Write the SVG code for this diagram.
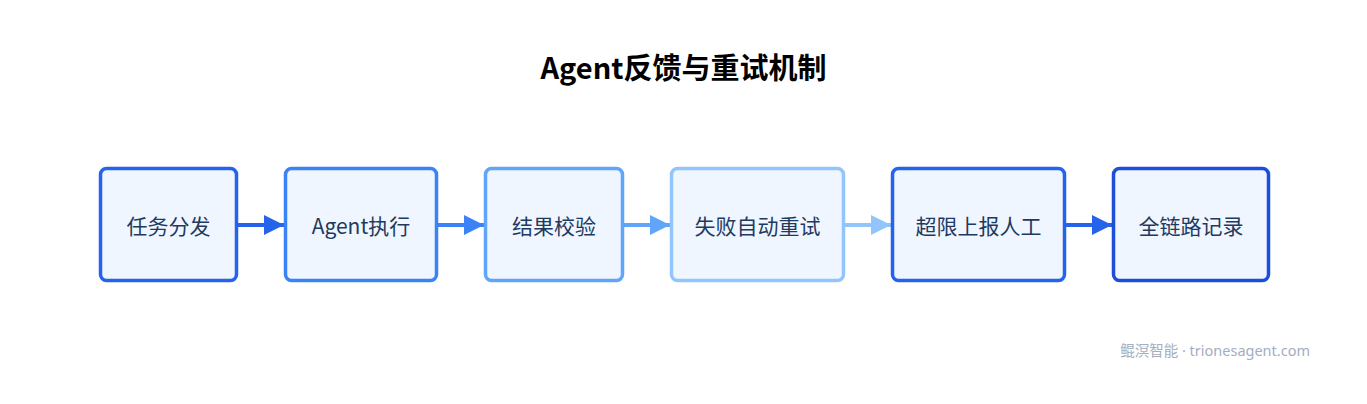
<svg xmlns="http://www.w3.org/2000/svg" width="1367" height="404" viewBox="0 0 1367 404">
<style>
.node rect{fill:#eff6ff;stroke-width:3.5}
.node text{font-family:"Noto Sans CJK SC","Noto Sans",sans-serif;font-size:21px;fill:#1e3a5f;text-anchor:middle;dominant-baseline:central}
.title{font-family:"Noto Sans CJK SC","Noto Sans",sans-serif;font-size:29px;font-weight:bold;fill:#000;text-anchor:middle}
.foot{font-family:"Noto Sans","Noto Sans CJK SC",sans-serif;font-size:14.5px;fill:#a3aebf;text-anchor:end}
.edge{fill:none;stroke-width:4}
</style>
<defs>
<marker id="a1" viewBox="0 0 10 10" refX="10" refY="5" markerWidth="5" markerHeight="5" markerUnits="strokeWidth" orient="auto"><path d="M0,0L10,5L0,10z" fill="#2563eb"/></marker>
<marker id="a2" viewBox="0 0 10 10" refX="10" refY="5" markerWidth="5" markerHeight="5" markerUnits="strokeWidth" orient="auto"><path d="M0,0L10,5L0,10z" fill="#3b82f6"/></marker>
<marker id="a3" viewBox="0 0 10 10" refX="10" refY="5" markerWidth="5" markerHeight="5" markerUnits="strokeWidth" orient="auto"><path d="M0,0L10,5L0,10z" fill="#60a5fa"/></marker>
<marker id="a4" viewBox="0 0 10 10" refX="10" refY="5" markerWidth="5" markerHeight="5" markerUnits="strokeWidth" orient="auto"><path d="M0,0L10,5L0,10z" fill="#93c5fd"/></marker>
</defs>
<rect width="1367" height="404" fill="#ffffff"/>
<text class="title" x="683.5" y="79">Agent反馈与重试机制</text>
<g id="connectors">
<line class="edge" x1="237" y1="225" x2="284" y2="225" stroke="#2563eb" marker-end="url(#a1)"/>
<line class="edge" x1="437" y1="225" x2="484" y2="225" stroke="#3b82f6" marker-end="url(#a2)"/>
<line class="edge" x1="623" y1="225" x2="670" y2="225" stroke="#60a5fa" marker-end="url(#a3)"/>
<line class="edge" x1="844" y1="225" x2="891" y2="225" stroke="#93c5fd" marker-end="url(#a4)"/>
<line class="edge" x1="1065" y1="225" x2="1112" y2="225" stroke="#2563eb" marker-end="url(#a1)"/>
</g>
<g id="n1" class="node"><rect x="100.5" y="168.5" width="136" height="112" rx="6" stroke="#2563eb"/><text x="168.5" y="225">任务分发</text></g>
<g id="n2" class="node"><rect x="285.5" y="168.5" width="151" height="112" rx="6" stroke="#3b82f6"/><text x="361" y="225">Agent执行</text></g>
<g id="n3" class="node"><rect x="485.5" y="168.5" width="137" height="112" rx="6" stroke="#60a5fa"/><text x="554" y="225">结果校验</text></g>
<g id="n4" class="node"><rect x="671.5" y="168.5" width="172" height="112" rx="6" stroke="#93c5fd"/><text x="757.5" y="225">失败自动重试</text></g>
<g id="n5" class="node"><rect x="892.5" y="168.5" width="172" height="112" rx="6" stroke="#2563eb"/><text x="978.5" y="225">超限上报人工</text></g>
<g id="n6" class="node"><rect x="1113.5" y="168.5" width="155" height="112" rx="6" stroke="#1d4ed8"/><text x="1191" y="225">全链路记录</text></g>
<text class="foot" x="1310" y="356">鲲溟智能 · trionesagent.com</text>
</svg>
